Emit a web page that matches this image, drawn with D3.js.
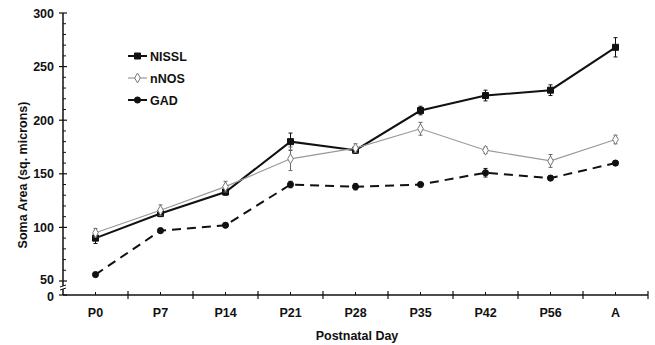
<!DOCTYPE html>
<html>
<head>
<meta charset="UTF-8">
<script src="https://d3js.org/d3.v7.min.js"></script>
<style>
  body { margin: 0; background: #fff; }
  text { font-family: Arial, "Liberation Sans", sans-serif; font-weight: bold; fill: #111; }
</style>
</head>
<body>
<svg width="655" height="345"></svg>
<script>
var days = ["P0", "P7", "P14", "P21", "P28", "P35", "P42", "P56", "A"];
var nissl = [90, 113, 133, 180, 172, 209, 223, 228, 268];
var nisslErr = [5, 3, 3, 8, 3, 4, 5, 5, 9];
var nnos = [95, 116, 138, 164, 174, 192, 172, 162, 182];
var nnosErr = [4, 5, 5, 11, 4, 6, 3, 6, 4];
var gad = [56, 97, 102, 140, 138, 140, 151, 146, 160];
var gadErr = [2, 2, 2, 3, 3, 2, 4, 2, 2];
var yTicks = [0, 50, 100, 150, 200, 250, 300];

var svg = d3.select("svg");
var x0 = 63, x1 = 648, yBase = 295;

var x = d3.scaleBand().domain(days).range([x0, x1]);
// broken axis: 0..50 squeezed
var y = d3.scaleLinear().domain([0, 50, 300]).range([yBase, 281, 13]);
var cx = d => x(d) + x.bandwidth() / 2;

// y axis
var g = svg.append("g").attr("stroke", "#111");
g.append("line").attr("x1", x0).attr("x2", x0).attr("y1", y(300)).attr("y2", yBase).attr("stroke-width", 1.5);
g.selectAll(".maj").data(yTicks).enter().append("line")
  .attr("x1", x0 - 4).attr("x2", x0 + 4)
  .attr("y1", d => y(d)).attr("y2", d => y(d)).attr("stroke-width", 1.2);
g.selectAll(".min").data(d3.range(60, 300, 10).filter(d => d % 50)).enter().append("line")
  .attr("x1", x0).attr("x2", x0 + 3)
  .attr("y1", d => y(d)).attr("y2", d => y(d)).attr("stroke-width", 1);
// axis break mark
svg.append("rect").attr("x", x0 - 3).attr("y", 286).attr("width", 6).attr("height", 3).attr("fill", "#fff");
svg.append("path").attr("d", "M" + (x0 - 3) + ",287 L" + (x0 + 3) + ",285 M" + (x0 - 3) + ",290 L" + (x0 + 3) + ",288")
  .attr("stroke", "#111").attr("stroke-width", 1).attr("fill", "none");

svg.selectAll(".ylab").data(yTicks).enter().append("text")
  .attr("x", x0 - 9).attr("y", d => y(d) + 4.5 + (d === 0 ? 1 : 0) - (d === 50 ? 2 : 0))
  .attr("text-anchor", "end").attr("font-size", 12.5).text(d => d);

// x axis
g.append("line").attr("x1", x0).attr("x2", x1).attr("y1", yBase).attr("y2", yBase).attr("stroke-width", 1.5);
g.selectAll(".xb").data(days).enter().append("line")
  .attr("x1", d => x(d) + x.bandwidth()).attr("x2", d => x(d) + x.bandwidth())
  .attr("y1", yBase - 4).attr("y2", yBase + 4).attr("stroke-width", 1.2);
g.selectAll(".xc").data(days).enter().append("line")
  .attr("x1", cx).attr("x2", cx)
  .attr("y1", yBase - 3).attr("y2", yBase).attr("stroke-width", 1);
svg.selectAll(".xlab").data(days).enter().append("text")
  .attr("x", cx).attr("y", 317).attr("text-anchor", "middle").attr("font-size", 12.5).text(d => d);

svg.append("text").attr("x", 357).attr("y", 340).attr("text-anchor", "middle")
  .attr("font-size", 12.5).text("Postnatal Day");
svg.append("text").attr("transform", "translate(27,175) rotate(-90)").attr("text-anchor", "middle")
  .attr("font-size", 12.5).text("Soma Area (sq. microns)");

// series
var series = [
  { name: "NISSL", v: nissl, e: nisslErr, color: "#111", width: 2, dash: null, marker: "square", fill: "#111" },
  { name: "nNOS", v: nnos, e: nnosErr, color: "#999", width: 1.2, dash: null, marker: "diamond", fill: "#fff" },
  { name: "GAD", v: gad, e: gadErr, color: "#111", width: 2, dash: "9,6", marker: "circle", fill: "#111" }
];
var symType = { square: d3.symbolSquare, diamond: d3.symbolDiamond, circle: d3.symbolCircle };
var symSize = { square: 36, diamond: 28, circle: 30 };

var line = d3.line().x((d, i) => cx(days[i])).y(d => y(d));

series.forEach(function(s) {
  var sg = svg.append("g");
  sg.append("path").datum(s.v).attr("d", line).attr("fill", "none")
    .attr("stroke", s.color).attr("stroke-width", s.width).attr("stroke-dasharray", s.dash);
  var eb = sg.selectAll(".eb").data(s.v).enter().append("g");
  eb.append("line").attr("x1", (d, i) => cx(days[i])).attr("x2", (d, i) => cx(days[i]))
    .attr("y1", (d, i) => y(d - s.e[i])).attr("y2", (d, i) => y(d + s.e[i]))
    .attr("stroke", s.name === "nNOS" ? "#666" : "#111").attr("stroke-width", 1);
  [-1, 1].forEach(function(sgn) {
    eb.append("line").attr("x1", (d, i) => cx(days[i]) - 2).attr("x2", (d, i) => cx(days[i]) + 2)
      .attr("y1", (d, i) => y(d + sgn * s.e[i])).attr("y2", (d, i) => y(d + sgn * s.e[i]))
      .attr("stroke", s.name === "nNOS" ? "#666" : "#111").attr("stroke-width", 1);
  });
  sg.selectAll(".mk").data(s.v).enter().append("path")
    .attr("d", d3.symbol().type(symType[s.marker]).size(symSize[s.marker]))
    .attr("transform", (d, i) => "translate(" + cx(days[i]) + "," + y(d) + ")")
    .attr("fill", s.fill).attr("stroke", s.name === "nNOS" ? "#777" : "#111").attr("stroke-width", 1);
});

// legend
var leg = svg.append("g");
series.forEach(function(s, i) {
  var ly = 56 + i * 22;
  leg.append("line").attr("x1", 128).attr("x2", 147).attr("y1", ly).attr("y2", ly)
    .attr("stroke", s.color).attr("stroke-width", s.width);
  leg.append("path").attr("d", d3.symbol().type(symType[s.marker]).size(symSize[s.marker]))
    .attr("transform", "translate(137.5," + ly + ")")
    .attr("fill", s.fill).attr("stroke", s.name === "nNOS" ? "#777" : "#111").attr("stroke-width", 1);
  leg.append("text").attr("x", 150).attr("y", ly + 4.5).attr("font-size", 12.5).text(s.name);
});
</script>
</body>
</html>
